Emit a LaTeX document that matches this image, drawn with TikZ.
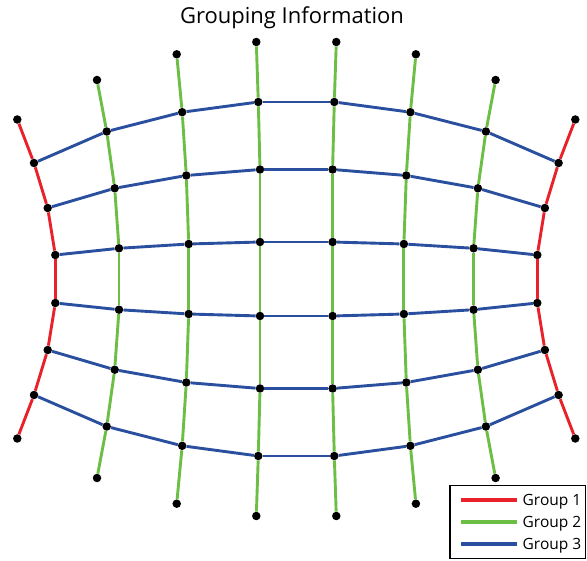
\documentclass[tikz,border=0pt]{standalone}
\usepackage{fontspec}
\setmainfont{Open Sans}
\usepackage{tikz}
\definecolor{grpred}{RGB}{232,33,42}
\definecolor{grpgreen}{RGB}{108,190,69}
\definecolor{grpblue}{RGB}{42,79,158}
\tikzset{
	dot/.style={circle,fill=black,inner sep=0pt,minimum size=8.5pt},
	grpone/.style={grpred,line width=2.9pt},
	grptwo/.style={grpgreen,line width=2.9pt},
	grpthree/.style={grpblue,line width=2.9pt},
}
\begin{document}
\begin{tikzpicture}[x=1pt,y=-1pt]
	\useasboundingbox (0,0) rectangle (587,561);
	\node[anchor=base,font=\fontsize{22}{26}\selectfont] (title) at (292,23.5) {Grouping Information};
	\foreach \c/\r/\x/\y in {0/0/17.3/119.5, 0/1/34/163, 0/2/47.7/208, 0/3/55.3/255,
			1/0/97/80, 1/1/106.7/131.5, 1/2/114.7/188.3, 1/3/119/248.3,
			2/0/176.7/54.3, 2/1/182.2/112.2, 2/2/186.3/175.5, 2/3/188.7/244,
			3/0/256.3/42, 3/1/258.3/102, 3/2/260/169.5, 3/3/260/242}{
		\pgfmathtruncatemacro{\cc}{7-\c}
		\pgfmathtruncatemacro{\rr}{7-\r}
		\node[dot] (p\c-\r) at (\x,\y) {};
		\node[dot] (p\cc-\r) at (592.6-\x,\y) {};
		\node[dot] (p\c-\rr) at (\x,558-\y) {};
		\node[dot] (p\cc-\rr) at (592.6-\x,558-\y) {};
	}
	\foreach \c in {0,7}
		\foreach \r [count=\n] in {0,...,6}
			\draw[grpone] (p\c-\r) -- (p\c-\n);
	\foreach \c in {1,...,6}
		\foreach \r [count=\n] in {0,...,6}
			\draw[grptwo] (p\c-\r) -- (p\c-\n);
	\foreach \r in {1,...,6}
		\foreach \c [count=\n] in {0,...,6}
			\draw[grpthree] (p\c-\r) -- (p\n-\r);
	\node[draw,line width=1.4pt,anchor=north west,inner sep=0pt,minimum width=135.7pt,minimum height=72.7pt] (legend) at (449.3,485) {};
	\foreach \k/\s/\y in {1/grpone/499.7, 2/grptwo/521.7, 3/grpthree/544}{
		\coordinate (la\k) at (461,\y);
		\coordinate (lb\k) at (516.7,\y);
		\draw[\s,line width=4pt] (la\k) -- (lb\k);
		\node[anchor=base west,inner sep=0pt,font=\fontsize{15.5}{18}\selectfont] (lt\k) at (522.5,\y+6) {Group \k};
	}
\end{tikzpicture}
\end{document}
